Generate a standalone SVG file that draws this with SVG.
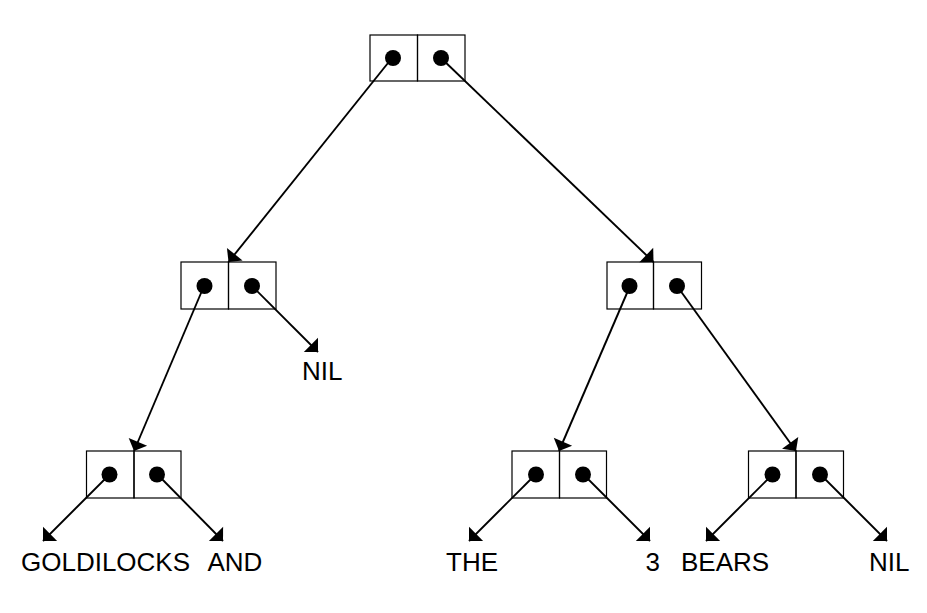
<svg xmlns="http://www.w3.org/2000/svg" width="927" height="613" viewBox="0 0 927 613">
<style>
.cell{fill:none;stroke:#000;stroke-width:1.2}
.dot{fill:#000}
.edge{stroke:#000;stroke-width:1.9;fill:none;marker-end:url(#ah)}
.lbl{font-family:"Liberation Sans",Arial,sans-serif;font-size:26px;fill:#000}
</style>
<defs>
<marker id="ah" markerUnits="userSpaceOnUse" viewBox="-11 -11 12 22" refX="0" refY="0" markerWidth="12" markerHeight="22" orient="auto" overflow="visible">
<path d="M0,0 L-10,-10 L-10,10 Z" fill="#000"/>
</marker>
</defs>
<rect width="927" height="613" fill="#fff"/>
<g id="connectors">
<line class="edge" x1="392" y1="58" x2="228.5" y2="262"/>
<line class="edge" x1="441" y1="58" x2="653.5" y2="262"/>
<line class="edge" x1="204" y1="286" x2="134" y2="451"/>
<line class="edge" x1="252" y1="286" x2="318" y2="352"/>
<line class="edge" x1="630" y1="286" x2="559" y2="451"/>
<line class="edge" x1="677" y1="286" x2="796" y2="451"/>
<line class="edge" x1="110" y1="474" x2="43" y2="541"/>
<line class="edge" x1="157" y1="474" x2="223" y2="541"/>
<line class="edge" x1="536" y1="474" x2="469" y2="541"/>
<line class="edge" x1="583" y1="474" x2="650" y2="541"/>
<line class="edge" x1="773" y1="474" x2="706" y2="541"/>
<line class="edge" x1="820" y1="474" x2="887" y2="541"/>
</g>
<g id="n0">
<rect class="cell" x="370" y="35" width="47.5" height="46"/>
<rect class="cell" x="417.5" y="35" width="47.5" height="46"/>
<circle class="dot" cx="393" cy="58" r="8"/>
<circle class="dot" cx="441" cy="58" r="8"/>
</g>
<g id="n1">
<rect class="cell" x="181" y="262" width="47.5" height="47"/>
<rect class="cell" x="228.5" y="262" width="47.5" height="47"/>
<circle class="dot" cx="204.5" cy="286" r="8"/>
<circle class="dot" cx="252" cy="286" r="8"/>
</g>
<g id="n2">
<rect class="cell" x="607" y="262" width="46.5" height="47"/>
<rect class="cell" x="653.5" y="262" width="48" height="47"/>
<circle class="dot" cx="629.5" cy="286" r="8"/>
<circle class="dot" cx="677" cy="286" r="8"/>
</g>
<g id="n3">
<rect class="cell" x="86.5" y="451" width="47.5" height="47"/>
<rect class="cell" x="134" y="451" width="47" height="47"/>
<circle class="dot" cx="109.5" cy="474.5" r="8"/>
<circle class="dot" cx="157" cy="474.5" r="8"/>
</g>
<g id="n4">
<rect class="cell" x="512" y="451" width="47.5" height="47"/>
<rect class="cell" x="559.5" y="451" width="47" height="47"/>
<circle class="dot" cx="536" cy="474.5" r="8"/>
<circle class="dot" cx="583" cy="474.5" r="8"/>
</g>
<g id="n5">
<rect class="cell" x="748.5" y="451" width="47.5" height="47"/>
<rect class="cell" x="796" y="451" width="47.5" height="47"/>
<circle class="dot" cx="772.5" cy="474.5" r="8"/>
<circle class="dot" cx="820" cy="474.5" r="8"/>
</g>
<g id="labels">
<text class="lbl" x="302" y="380">NIL</text>
<text class="lbl" x="21" y="571">GOLDILOCKS</text>
<text class="lbl" x="207.5" y="571">AND</text>
<text class="lbl" x="446" y="571">THE</text>
<text class="lbl" x="645.5" y="571">3</text>
<text class="lbl" x="681" y="571">BEARS</text>
<text class="lbl" x="869" y="571">NIL</text>
</g>
</svg>
